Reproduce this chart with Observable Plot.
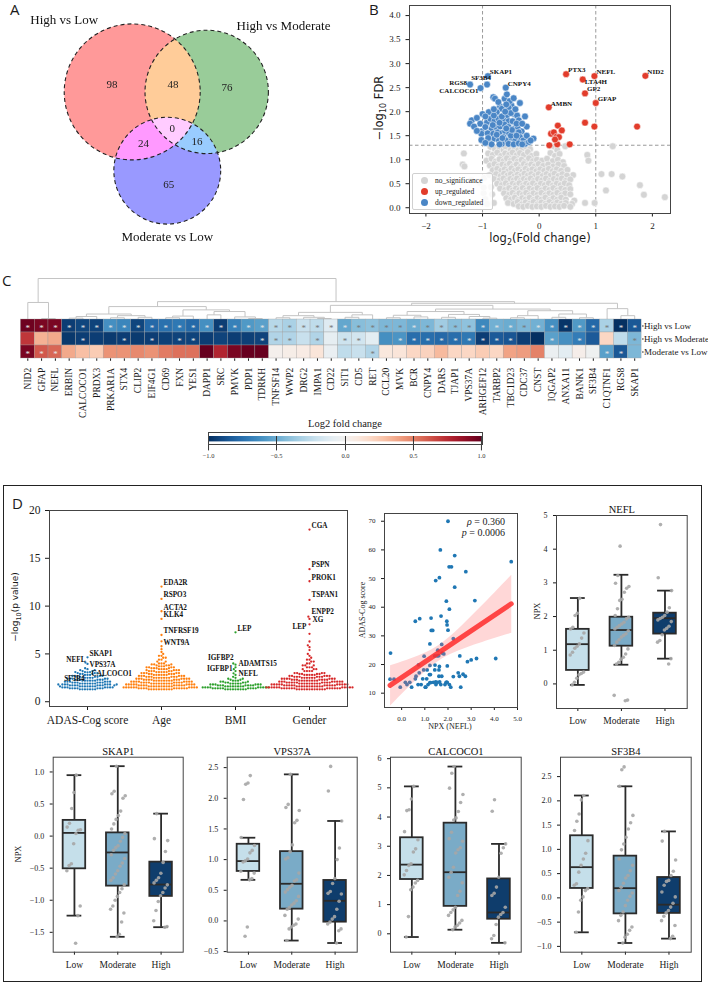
<!DOCTYPE html>
<html>
<head>
<meta charset="utf-8">
<script src="https://cdn.jsdelivr.net/npm/d3@7"></script>
<script src="https://cdn.jsdelivr.net/npm/@observablehq/plot@0.6"></script>
<style>
  html,body{margin:0;padding:0;background:#fff;}
  #fig{position:relative;width:708px;height:985px;overflow:hidden;background:#fff;font-family:'Liberation Serif','Times New Roman',serif;color:#1a1a1a;}
  #fig svg{overflow:visible;font-family:'Liberation Serif','Times New Roman',serif !important;}
  #fig svg text{font-family:'Liberation Serif','Times New Roman',serif;}
  .lbl{position:absolute;white-space:nowrap;line-height:1;}
  .cbar .tick line{display:none;}
</style>
</head>
<body>
<div id="fig"></div>
<script>
// ======================= DATA =======================
// Panel A — Venn
const vennSets = ["High vs Low", "High vs Moderate", "Moderate vs Low"];
const vennRegions = ["100", "010", "001", "110", "101", "011", "111"];
const vennCounts = [98, 76, 65, 48, 24, 16, 0];

// Panel B — volcano
const fcTicks = [-2, -1, 0, 1, 2];
const fdrTicks = [0, 0.5, 1, 1.5, 2, 2.5, 3, 3.5, 4];
const fcCutoffs = [-1, 1];
const fdrCutoff = [1.301];
const volcanoGenes = ["RGS8","CALCOCO1","SF3B4","SKAP1","CNPY4","PTX3","LTA4H","NEFL","GP2","GFAP","AMBN","NID2"];
const volcanoFC  = [-1.22,-1.035,-0.92,-0.906,-0.59,0.476,0.77,0.976,0.81,1.0,0.17,1.876];
const volcanoFDR = [2.565,2.49,2.565,2.74,2.5,2.78,2.67,2.74,2.38,2.18,2.09,2.745];
const upPts = [[0.33,1.71],[0.4,1.61],[0.21,1.54],[0.26,1.57],[0.31,1.48],[0.35,1.47],[0.18,1.3],[0.32,1.32],[0.54,1.32],[0.81,1.77],[0.976,1.69],[1.73,1.69],[0.28,1.42]];
const downPts = [[-0.81,2.3],[-0.78,2.27],[-0.61,2.27],[-0.57,2.36],[-0.34,2.18],[-0.49,2.13],[-0.69,2.11],[-0.54,2.08],[-0.66,2.06],[-0.75,1.99],[-1.0,1.95],[-0.89,1.99],[-0.44,1.95],[-0.57,1.92],[-0.39,1.92],[-0.25,1.9],[-1.19,1.82],[-1.1,1.87],[-1.04,1.75],[-0.92,1.78],[-0.86,1.85],[-0.79,1.8],[-0.72,1.85],[-0.63,1.82],[-0.54,1.8],[-0.47,1.8],[-0.36,1.82],[-0.22,1.69],[-1.22,1.75],[-1.15,1.69],[-1.02,1.59],[-0.95,1.68],[-0.84,1.64],[-0.76,1.68],[-0.69,1.69],[-0.61,1.73],[-0.54,1.68],[-0.45,1.64],[-0.38,1.68],[-0.31,1.59],[-1.02,1.54],[-0.91,1.55],[-0.81,1.54],[-0.73,1.57],[-0.66,1.55],[-0.6,1.59],[-0.53,1.55],[-0.44,1.54],[-0.36,1.57],[-1.02,1.41],[-0.86,1.37],[-0.79,1.44],[-0.71,1.4],[-0.63,1.47],[-0.57,1.4],[-0.49,1.46],[-0.42,1.4],[-0.34,1.47],[-0.28,1.4],[-0.1,1.44],[-0.84,1.32],[-0.66,1.33],[-0.54,1.33],[-0.45,1.32],[-0.36,1.34],[-0.25,1.33],[-0.18,1.37],[-0.5,1.5],[-0.65,1.45],[-0.75,1.52],[-0.9,1.45],[-0.48,1.62],[-0.58,1.65],[-0.7,1.77],[-0.82,1.72],[-0.4,1.75],[-0.3,1.75],[-0.66,1.9],[-0.8,1.92],[-0.5,1.97],[-0.95,1.9],[-0.42,2.05],[-0.6,2.0],[-0.72,2.2],[-0.52,2.22],[-0.4,1.5],[-0.22,1.5],[-0.15,1.4],[-0.95,1.35],[-0.7,1.32],[-0.3,1.32],[-1.1,1.6],[-0.58,2.15],[-0.45,2.28],[-0.8,2.05]];
const grayPts = [[-1.33,1.13],[-1.35,0.9],[-1.32,0.86],[-1.2,0.58],[-1.05,0.52],[-0.97,0.62],[-0.98,0.3],[-0.95,0.18],[-0.92,0.08],[-0.8,0.1],[1.3,1.28],[0.85,1.1],[0.87,0.98],[0.6,0.68],[0.62,0.15],[0.58,0.08],[0.81,0.1],[0.98,0.1],[1.1,0.7],[1.28,0.7],[1.47,0.65],[1.18,0.36],[1.78,0.47],[1.85,0.27],[2.22,0.22],[-0.83,0.28],[-0.85,0.43],[-0.98,0.42],
[-0.86,1.27],[-0.78,1.22],[-0.7,1.25],[-0.63,1.2],[-0.56,1.26],[-0.5,1.21],[-0.44,1.27],[-0.37,1.2],[-0.3,1.24],[-0.24,1.28],[-0.16,1.22],[0.27,1.27],[0.32,1.2],[0.46,1.28],[-0.6,1.28],
[-0.9,1.13],[-0.82,1.1],[-0.74,1.15],[-0.67,1.08],[-0.6,1.13],[-0.53,1.1],[-0.47,1.15],[-0.4,1.09],[-0.34,1.14],[-0.27,1.1],[-0.2,1.16],[-0.13,1.08],[-0.05,1.12],[0.2,1.14],[0.28,1.08],[0.36,1.12],
[-0.93,0.98],[-0.84,1.02],[-0.77,0.96],[-0.7,1.01],[-0.63,0.97],[-0.57,1.03],[-0.5,0.98],[-0.44,1.02],[-0.38,0.96],[-0.31,1.0],[-0.25,0.95],[-0.18,1.03],[-0.11,0.97],[-0.04,1.0],[0.05,0.98],[0.14,1.02],[0.24,0.97],[0.33,1.0],[0.42,0.95],
[-0.87,0.88],[-0.79,0.91],[-0.72,0.86],[-0.65,0.9],[-0.58,0.87],[-0.52,0.92],[-0.46,0.86],[-0.4,0.9],[-0.33,0.85],[-0.27,0.91],[-0.21,0.87],[-0.14,0.9],[-0.08,0.86],[-0.01,0.91],[0.07,0.87],[0.16,0.9],[0.25,0.86],[0.34,0.9],[0.44,0.87],
[-0.82,0.78],[-0.74,0.81],[-0.67,0.77],[-0.61,0.8],[-0.55,0.76],[-0.49,0.82],[-0.43,0.77],[-0.37,0.8],[-0.3,0.75],[-0.24,0.81],[-0.18,0.77],[-0.12,0.8],[-0.05,0.76],[0.02,0.8],[0.09,0.77],[0.17,0.81],[0.24,0.76],[0.31,0.8],[0.39,0.77],[0.5,0.79],
[-0.88,0.68],[-0.76,0.7],[-0.68,0.66],[-0.62,0.71],[-0.56,0.67],[-0.5,0.7],[-0.44,0.65],[-0.38,0.69],[-0.32,0.66],[-0.26,0.71],[-0.2,0.67],[-0.14,0.7],[-0.08,0.66],[-0.01,0.7],[0.06,0.66],[0.13,0.7],[0.2,0.67],[0.27,0.71],[0.34,0.66],[0.41,0.7],[0.49,0.67],
[-0.8,0.6],[-0.7,0.57],[-0.63,0.61],[-0.57,0.56],[-0.51,0.6],[-0.45,0.57],[-0.39,0.61],[-0.33,0.56],[-0.27,0.6],[-0.21,0.57],[-0.15,0.61],[-0.09,0.56],[-0.02,0.6],[0.05,0.57],[0.12,0.61],[0.19,0.56],[0.26,0.6],[0.33,0.57],[0.4,0.61],[0.47,0.56],[0.55,0.59],
[-0.74,0.5],[-0.66,0.47],[-0.59,0.51],[-0.53,0.46],[-0.47,0.5],[-0.41,0.47],[-0.35,0.51],[-0.29,0.46],[-0.23,0.5],[-0.17,0.47],[-0.11,0.51],[-0.04,0.46],[0.03,0.5],[0.1,0.47],[0.17,0.51],[0.24,0.46],[0.31,0.5],[0.38,0.47],[0.45,0.51],[0.53,0.47],
[-0.69,0.4],[-0.6,0.37],[-0.53,0.41],[-0.47,0.36],[-0.41,0.4],[-0.35,0.37],[-0.29,0.41],[-0.23,0.36],[-0.17,0.4],[-0.1,0.37],[-0.03,0.41],[0.04,0.36],[0.11,0.4],[0.18,0.37],[0.25,0.41],[0.32,0.36],[0.39,0.4],[0.46,0.37],[0.55,0.39],
[-0.62,0.3],[-0.53,0.27],[-0.47,0.31],[-0.41,0.26],[-0.35,0.3],[-0.29,0.27],[-0.23,0.31],[-0.17,0.26],[-0.1,0.3],[-0.03,0.27],[0.04,0.31],[0.11,0.26],[0.18,0.3],[0.25,0.27],[0.32,0.31],[0.39,0.26],[0.46,0.3],[0.55,0.28],
[-0.58,0.2],[-0.5,0.17],[-0.43,0.21],[-0.37,0.16],[-0.3,0.2],[-0.24,0.17],[-0.17,0.21],[-0.1,0.16],[-0.03,0.2],[0.04,0.17],[0.11,0.21],[0.18,0.16],[0.25,0.2],[0.32,0.17],[0.39,0.21],[0.47,0.17],
[-0.55,0.1],[-0.45,0.08],[-0.38,0.12],[-0.31,0.07],[-0.24,0.11],[-0.17,0.08],[-0.1,0.12],[-0.03,0.07],[0.04,0.11],[0.11,0.08],[0.18,0.12],[0.25,0.07],[0.32,0.11],[0.39,0.08],[0.47,0.1],
[-0.36,0.03],[-0.28,0.02],[-0.2,0.04],[-0.12,0.02],[-0.04,0.03],[0.04,0.02],[0.12,0.04],[0.2,0.02],[0.28,0.03],[0.36,0.02],[0.44,0.04],[0.55,0.02]];

// Panel C — heatmap
const genes = ["NID2","GFAP","NEFL","ERBIN","CALCOCO1","PRDX3","PRKAR1A","STX4","CLIP2","EIF4G1","CD69","FXN","YES1","DAPP1","SRC","PMVK","PDP1","TDRKH","TNFSF14","WWP2","DRG2","IMPA1","CD22","SIT1","CD5","RET","CCL20","MVK","BCR","CNPY4","DARS","TJAP1","VPS37A","ARHGEF12","TARBP2","TBC1D23","CDC37","CNST","IQGAP2","ANXA11","BANK1","SF3B4","C1QTNF1","RGS8","SKAP1"];
const comparisons = ["High vs Low", "High vs Moderate", "Moderate vs Low"];
const hvlFC = [0.98,0.95,0.95,-0.95,-0.92,-0.93,-0.62,-0.66,-0.92,-0.78,-0.75,-0.72,-0.78,-0.62,-0.95,-0.68,-0.58,-0.55,-0.28,-0.32,-0.22,-0.25,-0.12,-0.52,-0.42,-0.4,-0.45,-0.45,-0.5,-0.45,-0.35,-0.42,-0.4,-0.65,-0.48,-0.5,-0.45,-0.48,-0.62,-0.98,-0.58,-0.78,-0.32,-1.0,-0.85];
const hvmFC = [0.72,0.35,0.38,-0.97,-0.95,-0.95,-0.96,-0.95,-0.96,-0.95,-0.94,-0.93,-0.93,-0.95,-0.93,-0.95,-0.94,-0.93,-0.3,-0.3,-0.22,-0.3,-0.08,-0.2,-0.18,-0.1,-0.62,-0.6,-0.76,-0.76,-0.78,-0.76,-0.72,-0.95,-0.84,-0.86,-0.95,-1.0,-0.55,-0.62,-0.7,-0.84,0.2,-0.25,-0.45];
const mvlFC = [0.95,0.62,0.58,0.38,0.3,0.25,0.45,0.45,0.48,0.45,0.52,0.55,0.55,1.0,0.78,0.95,1.0,1.0,0.02,0.05,0.07,0.12,-0.06,-0.25,-0.22,-0.3,0.1,0.12,0.2,0.22,0.32,0.2,0.2,0.25,0.2,0.4,0.42,0.5,-0.05,-0.1,0.04,-0.03,-0.55,-0.85,-0.45];
const hvlSig = genes.slice();
const hvmSig = ["CALCOCO1","STX4","EIF4G1","FXN","YES1","TDRKH","TNFSF14","WWP2","IMPA1","SIT1","CD5","MVK","BCR","CNPY4","DARS","TJAP1","VPS37A","ARHGEF12","TARBP2","TBC1D23","IQGAP2","BANK1","SKAP1"];
const mvlSig = ["NID2","GFAP","NEFL","RET","C1QTNF1","RGS8"];
// column dendrogram: [height, left, right]
const colTree = [1.0,
  [0.42, "NID2", [0.03, "GFAP", "NEFL"]],
  [0.44,
    [0.32,
      [0.14, [0.08, [0.04, "ERBIN", "CALCOCO1"], "PRDX3"], [0.1, [0.05, "PRKAR1A", "STX4"], [0.06, "CLIP2", "EIF4G1"]]],
      [0.24, [0.09, [0.05, "CD69", "FXN"], "YES1"], [0.2, [0.12, "DAPP1", "SRC"], [0.07, "PMVK", [0.03, "PDP1", "TDRKH"]]]]],
    [0.40,
      [0.35,
        [0.18, [0.1, [0.05, "TNFSF14", "WWP2"], [0.06, "DRG2", [0.03, "IMPA1", "CD22"]]], [0.12, [0.06, "SIT1", "CD5"], "RET"]],
        [0.26,
          [0.2, [0.11, [0.05, "CCL20", "MVK"], [0.07, "BCR", "CNPY4"]], [0.13, [0.06, "DARS", "TJAP1"], [0.08, "VPS37A", [0.04, "ARHGEF12", "TARBP2"]]]],
          [0.22, [0.1, [0.05, "TBC1D23", "CDC37"], "CNST"], [0.14, [0.06, "IQGAP2", "ANXA11"], [0.05, "BANK1", "SF3B4"]]]]],
      [0.27, "C1QTNF1", [0.1, "RGS8", "SKAP1"]]]]];
const cbarTicks = [-1, -0.5, 0, 0.5, 1];

// Panel D — association swarm
const swarmCats = ["ADAS-Cog score", "Age", "BMI", "Gender"];
const adasBins = [[1.3,7],[1.4,7],[1.5,7],[1.6,8],[1.7,8],[1.8,8],[1.9,7],[2.0,6],[2.1,6],[2.2,6],[2.3,6],[2.4,5],[2.5,4],[2.6,4],[2.7,4],[2.8,3],[2.9,3],[3.0,3],[3.1,3],[3.2,2],[3.3,2],[3.4,1],[3.5,1]];
const ageBins = [[1.3,10],[1.4,10],[1.5,10],[1.6,10],[1.7,9],[1.8,9],[1.9,9],[2.0,8],[2.1,8],[2.2,8],[2.3,7],[2.4,7],[2.5,7],[2.6,6],[2.7,6],[2.8,6],[2.9,5],[3.0,5],[3.1,5],[3.2,5],[3.3,4],[3.4,4],[3.5,4],[3.6,4],[3.7,3],[3.8,3],[3.9,3],[4.0,3],[4.2,2],[4.4,2],[4.6,2],[4.8,2],[5.0,1],[5.2,1],[5.5,1],[5.8,1]];
const bmiBins = [[1.3,9],[1.4,9],[1.5,9],[1.6,8],[1.7,7],[1.8,6],[1.9,5],[2.0,4],[2.1,3],[2.2,3],[2.3,2],[2.4,2],[2.5,1],[2.6,1],[2.8,1],[3.2,1],[3.4,1]];
const genderBins = [[1.3,12],[1.4,12],[1.5,11],[1.6,11],[1.7,10],[1.8,10],[1.9,9],[2.0,9],[2.1,8],[2.2,8],[2.3,7],[2.4,7],[2.5,6],[2.6,6],[2.7,5],[2.8,5],[2.9,4],[3.0,4],[3.2,4],[3.4,3],[3.6,3],[3.8,3],[4.0,2],[4.2,2],[4.4,2],[4.6,1],[4.8,1],[5.0,1],[5.4,1],[5.7,1],[5.9,1],[6.3,1],[7.1,1]];
const adasTopGenes = ["SKAP1","NEFL","VPS37A","CALCOCO1","SF3B4"];
const adasTopP = [4.64, 4.1, 3.95, 3.07, 2.55];
const ageTopGenes = ["EDA2R","RSPO3","ACTA2","KLK4","TNFRSF19","WNT9A"];
const ageTopP = [12.04, 10.75, 9.46, 8.66, 6.98, 6.32];
const bmiTopGenes = ["LEP","IGFBP2","ADAMTS15","IGFBP1","NEFL"];
const bmiTopP = [7.26, 4.0, 3.87, 3.6, 2.97];
const genderTopGenes = ["CGA","PSPN","PROK1","TSPAN1","ENPP2","XG","LEP"];
const genderTopP = [18.0, 13.86, 12.6, 10.65, 8.9, 8.66, 8.1];
const swarmTicks = [0, 5, 10, 15, 20];

// Panel D — NEFL vs ADAS-Cog
const scatterNPX = [2.0,1.67,2.29,2.05,2.15,4.73,2.77,1.63,1.47,2.29,3.16,1.93,2.06,1.7,0.78,1.27,0.59,1.95,1.96,2.0,1.28,1.34,2.23,1.22,1.73,-0.48,1.82,0.97,2.51,1.43,1.54,1.6,4.06,3.23,3.0,2.84,0.73,1.97,1.22,1.44,1.63,0.95,1.1,1.43,1.61,0.62,0.76,1.2,1.24,2.44,2.65,2.23,2.49,2.75,-0.5,-0.33,0.59,0.91,1.08,1.61,1.73,1.92,1.96,2.06,0.16,0.35,1.37,1.47,1.64,0.23,0.43,0.71,0.84,1.04,1.14,-0.06,1.22,1.25,1.48,1.54,1.69,1.87,1.95,2.12,2.55,1.02,1.56,1.75];
const scatterADAS = [70.0,60.0,58.0,54.1,54.1,55.9,52.4,50.3,49.3,47.0,42.3,42.1,39.3,36.9,36.0,36.2,35.1,35.1,33.8,32.0,31.9,31.9,29.0,27.2,27.0,24.0,23.7,22.9,23.0,23.0,23.0,23.1,22.1,22.1,21.6,21.0,19.9,19.5,19.7,19.8,19.3,18.1,18.1,18.1,18.1,15.9,17.1,16.5,16.5,17.1,16.6,15.8,15.9,15.9,14.9,14.9,15.0,15.0,15.0,15.9,15.9,13.8,13.8,13.0,13.8,13.8,13.8,13.9,13.9,13.0,12.1,13.0,13.0,12.1,13.0,12.1,13.7,13.7,13.0,13.8,13.0,13.0,13.8,12.1,12.1,12.1,25.0,24.0];
const rhoText = "0.360";
const pText = "0.0006";

// Panel D — box plots (groups Low / Moderate / High)
const boxGroups = ["Low", "Moderate", "High"];
const neflStats = {lo:[-0.03,0.57,0.75], q1:[0.4,1.12,1.48], med:[1.18,1.6,1.95], q3:[1.62,1.98,2.1], hi:[2.55,3.24,2.77]};
const neflPts = [
  [2.54,2.1,2.03,1.68,1.63,1.51,1.36,1.19,1.12,1.06,0.94,0.86,0.35,0.31,0.27,0.17,0.05,-0.03],
  [4.09,3.22,2.99,2.89,2.84,2.72,2.51,2.48,2.23,2.03,1.98,1.93,1.83,1.78,1.73,1.68,1.63,1.58,1.49,1.44,1.39,1.31,1.24,1.14,1.04,0.89,0.79,0.73,0.64,0.59,-0.34,-0.48,-0.5],
  [4.73,3.15,2.77,2.26,2.13,2.03,1.98,1.94,1.9,1.85,1.71,1.65,1.6,1.46,1.29,1.24,0.75,0.59]];
const skap1Stats = {lo:[-1.24,-1.57,-1.42], q1:[-0.51,-0.78,-0.94], med:[0.05,-0.255,-0.755], q3:[0.245,0.05,-0.406], hi:[0.95,1.09,0.35]};
const skap1Pts = [
  [0.95,0.68,0.43,0.2,0.14,0.1,0.09,0.04,-0.12,-0.43,-0.46,-0.54,-1.09,-1.24,-1.67],
  [1.09,0.7,0.66,0.63,0.59,0.39,0.32,0.26,0.19,0.11,0.04,-0.02,-0.08,-0.15,-0.18,-0.22,-0.29,-0.35,-0.42,-0.47,-0.54,-0.59,-0.65,-0.69,-0.76,-0.82,-0.88,-0.94,-1.0,-1.09,-1.14,-1.2,-1.34,-1.53,-1.57],
  [0.35,-0.04,-0.07,-0.24,-0.41,-0.58,-0.65,-0.69,-0.73,-0.76,-0.81,-0.88,-0.93,-1.02,-1.16,-1.32,-1.41,-1.42]];
const vps37aStats = {lo:[0.67,-0.32,-0.36], q1:[0.807,0.192,-0.02], med:[0.976,0.606,0.328], q3:[1.25,1.13,0.66], hi:[1.357,2.39,1.63]};
const vps37aPts = [
  [2.37,2.25,2.23,1.98,1.36,1.23,1.15,1.11,1.01,0.98,0.96,0.81,0.78,0.69,0.67,-0.1,-0.25],
  [2.39,1.9,1.85,1.8,1.64,1.6,1.24,1.13,1.03,1.01,0.78,0.67,0.65,0.58,0.55,0.51,0.47,0.4,0.33,0.29,0.26,0.22,0.19,0.09,0.03,-0.05,-0.07,-0.1,-0.13,-0.32],
  [2.52,2.12,1.63,1.19,1.0,0.69,0.61,0.48,0.45,0.44,0.32,0.19,0.07,0.03,-0.02,-0.05,-0.13,-0.16,-0.36]];
const calcoco1Stats = {lo:[-0.11,0.14,-0.31], q1:[1.86,0.94,0.5], med:[2.37,2.11,0.73], q3:[3.29,3.79,1.88], hi:[5.05,5.73,3.08]};
const calcoco1Pts = [
  [5.05,4.62,4.25,4.22,3.5,3.22,2.91,2.8,2.4,2.34,2.17,2.02,1.83,1.74,1.6,1.51,0.59,-0.11],
  [5.73,5.5,4.99,4.77,4.5,4.19,3.97,3.9,3.48,3.26,3.17,2.95,2.88,2.77,2.28,2.11,1.94,1.75,1.46,1.31,0.91,0.82,0.73,0.63,0.46,0.37,0.29,0.23,0.14],
  [4.59,4.2,3.08,2.95,2.76,1.94,1.6,1.39,1.31,0.91,0.73,0.66,0.57,0.32,-0.06,-0.17,-0.31]];
const sf3b4Stats = {lo:[-0.71,-0.93,-0.84], q1:[0.194,-0.33,-0.32], med:[0.633,0.2,-0.14], q3:[1.28,0.86,0.42], hi:[2.11,2.3,1.37]};
const sf3b4Pts = [
  [2.11,2.02,1.73,1.58,1.39,1.18,0.92,0.8,0.67,0.53,0.29,0.26,0.19,0.15,0.02,-0.05,-0.29,-0.71],
  [2.7,2.64,2.3,1.7,1.55,1.42,1.25,1.11,0.99,0.8,0.67,0.56,0.46,0.41,0.3,0.22,0.15,0.1,0.03,-0.05,-0.16,-0.29,-0.36,-0.47,-0.6,-0.67,-0.75,-0.81,-0.93],
  [1.37,1.17,0.78,0.55,0.46,0.36,0.34,0.26,0.12,0.02,-0.11,-0.19,-0.26,-0.31,-0.38,-0.47,-0.57,-0.79,-0.84]];

// ======================= RENDERING =======================
const fig = document.getElementById("fig");
const SERIF = "'Liberation Serif','Times New Roman',serif";
const SANS = "'DejaVu Sans',sans-serif";
const st = (fs, extra = {}) => Object.assign({fontFamily: SERIF, fontSize: fs + "px", background: "none", overflow: "visible", color: "#1a1a1a"}, extra);
function put(node, x, y) {
  node.style.position = "absolute"; node.style.left = x + "px"; node.style.top = y + "px";
  node.querySelectorAll("text").forEach(t => { t.style.fontFamily = SERIF; });
  fig.appendChild(node); return node;
}
function txt(html, x, y, o = {}) {
  const d = document.createElement("div");
  d.className = "lbl";
  d.innerHTML = html;
  const size = o.size || 10, fam = o.family || SERIF, rot = o.rotate || 0;
  const tx = o.anchor === "start" ? "0" : o.anchor === "end" ? "-100%" : "-50%";
  d.style.left = x + "px"; d.style.top = y + "px";
  d.style.fontSize = size + "px"; d.style.fontFamily = fam;
  if (o.weight) d.style.fontWeight = o.weight;
  if (o.style) d.style.cssText += o.style;
  d.style.transform = `translate(${tx},-50%)` + (rot ? ` rotate(${rot}deg)` : "");
  fig.appendChild(d);
  return d;
}
const LETTER = "'Open Sans','Liberation Sans',sans-serif";
txt("A", 10, 9, {size: 15, family: LETTER, anchor: "start"});
txt("B", 369, 9, {size: 15, family: LETTER, anchor: "start"});
txt("C", 2, 280, {size: 15, family: LETTER, anchor: "start"});

// ---------- A: Venn ----------
(function () {
  const AREA = 85.4; // px² per item
  const size = vennSets.map((_, i) => d3.sum(vennRegions.map((k, j) => k[i] === "1" ? vennCounts[j] : 0)));
  const both = (i, j) => d3.sum(vennRegions.map((k, m) => (k[i] === "1" && k[j] === "1") ? vennCounts[m] : 0));
  const R = size.map(s => Math.sqrt(s * AREA / Math.PI));
  function lens(r1, r2, d) {
    if (d >= r1 + r2) return 0;
    if (d <= Math.abs(r1 - r2)) return Math.PI * Math.min(r1, r2) ** 2;
    const a = r1 * r1 * Math.acos((d * d + r1 * r1 - r2 * r2) / (2 * d * r1));
    const b = r2 * r2 * Math.acos((d * d + r2 * r2 - r1 * r1) / (2 * d * r2));
    const c = 0.5 * Math.sqrt((-d + r1 + r2) * (d + r1 - r2) * (d - r1 + r2) * (d + r1 + r2));
    return a + b - c;
  }
  function distFor(r1, r2, area) {
    let lo = Math.abs(r1 - r2), hi = r1 + r2;
    for (let k = 0; k < 60; k++) { const m = (lo + hi) / 2; if (lens(r1, r2, m) > area) lo = m; else hi = m; }
    return (lo + hi) / 2;
  }
  const d01 = distFor(R[0], R[1], both(0, 1) * AREA);
  const d02 = distFor(R[0], R[2], both(0, 2) * AREA);
  const d12 = distFor(R[1], R[2], both(1, 2) * AREA);
  const cx2 = (d02 * d02 - d12 * d12 + d01 * d01) / (2 * d01);
  const cy2 = Math.sqrt(Math.max(0, d02 * d02 - cx2 * cx2));
  let C = [[0, 0], [d01, 0], [cx2, cy2]];
  const bx0 = d3.min(C, (c, i) => c[0] - R[i]), bx1 = d3.max(C, (c, i) => c[0] + R[i]);
  const by0 = d3.min(C, (c, i) => c[1] - R[i]), by1 = d3.max(C, (c, i) => c[1] + R[i]);
  const ox = 165.8 - (bx0 + bx1) / 2, oy = 123.5 - (by0 + by1) / 2;
  const colors = ["#ff9999", "#99cc99", "#9999ff"];
  const circles = C.map((c, i) => ({x: c[0] + ox, y: c[1] + oy, r: R[i], color: colors[i], name: vennSets[i]}));
  const acc = new Map();
  for (let x = Math.floor(bx0 + ox); x <= bx1 + ox; x++) for (let y = Math.floor(by0 + oy); y <= by1 + oy; y++) {
    const key = circles.map(c => ((x - c.x) ** 2 + (y - c.y) ** 2 <= c.r * c.r) ? "1" : "0").join("");
    if (key === "000") continue;
    const a = acc.get(key) || [0, 0, 0]; a[0] += x; a[1] += y; a[2]++; acc.set(key, a);
  }
  const regionLabels = vennRegions.map((k, j) => { const a = acc.get(k) || [0, 0, 1]; return {x: a[0] / a[2], y: a[1] / a[2], text: String(vennCounts[j])}; });
  const setOffsets = [[-1.0, -1.06], [1.245, -1.075], [0, 1.235]];
  const setLabels = circles.map((c, i) => ({x: c.x + setOffsets[i][0] * c.r, y: c.y + setOffsets[i][1] * c.r, text: c.name}));
  const svg = Plot.plot({
    width: 350, height: 260, margin: 0,
    x: {domain: [0, 350], range: [0, 350], axis: null},
    y: {domain: [0, 260], range: [0, 260], axis: null},
    style: st(11, {isolation: "isolate"}),
    marks: [
      ...circles.map(c => Plot.dot([c], {x: "x", y: "y", r: c.r, fill: c.color, stroke: "none", mixBlendMode: "lighten"})),
      ...circles.map(c => Plot.dot([c], {x: "x", y: "y", r: c.r, fill: "none", stroke: "#222", strokeWidth: 1.1, strokeDasharray: "4,3"})),
      Plot.text(regionLabels, {x: "x", y: "y", text: "text", fontSize: 11, fill: "#222"}),
      Plot.text(setLabels, {x: "x", y: "y", text: "text", fontSize: 13, fill: "#111"})
    ]
  });
  put(svg, 0, 0);
})();

// ---------- B: volcano ----------
(function () {
  const lab = volcanoGenes.map((g, i) => ({g, x: volcanoFC[i], y: volcanoFDR[i], up: volcanoFC[i] > 0}));
  const layout = {RGS8: [-3, -2, "end"], CALCOCO1: [-2, 3, "end"], SF3B4: [-6, -7, "middle"], LTA4H: [2, 2.5, "start"], GP2: [2, -4.5, "start"]};
  const RED = "#e23c2b", BLUE = "#4a86c6", GRAY = "#d4d4d4";
  const svg = Plot.plot({
    width: 353, height: 260, marginLeft: 54, marginRight: 38, marginTop: 5, marginBottom: 47,
    style: st(9),
    x: {domain: [-2.29, 2.32], ticks: fcTicks, tickFormat: d3.format("d"), tickSize: 3.5, label: null},
    y: {domain: [-0.12, 4.21], ticks: fdrTicks, tickFormat: d3.format(".1f"), tickSize: 3.5, label: null},
    marks: [
      Plot.ruleX(fcCutoffs, {stroke: "#9a9a9a", strokeDasharray: "3.5,2.5", strokeWidth: 1}),
      Plot.ruleY(fdrCutoff, {stroke: "#9a9a9a", strokeDasharray: "3.5,2.5", strokeWidth: 1}),
      Plot.dot(grayPts, {x: d => d[0], y: d => d[1], r: 3.4, fill: GRAY, stroke: "#fff", strokeWidth: 0.5}),
      Plot.dot(upPts, {x: d => d[0], y: d => d[1], r: 3.4, fill: RED, stroke: "#fff", strokeWidth: 0.5}),
      Plot.dot(downPts, {x: d => d[0], y: d => d[1], r: 3.4, fill: BLUE, stroke: "#fff", strokeWidth: 0.5}),
      Plot.dot(lab, {x: "x", y: "y", r: 3.4, fill: d => d.up ? RED : BLUE, stroke: "#fff", strokeWidth: 0.5}),
      ...lab.map(d => { const o = layout[d.g] || [2, -4, "start"]; return Plot.text([d], {x: "x", y: "y", text: "g", dx: o[0], dy: o[1], textAnchor: o[2], fontSize: 7, fontWeight: "bold", fill: "#111"}); }),
      Plot.frame({stroke: "#444"})
    ]
  });
  put(svg, 355, 0);
  txt("log<sub style='font-size:8px'>2</sub>(Fold change)", 540, 240, {size: 11.5, family: SANS});
  txt("−log<sub style='font-size:8px'>10</sub> FDR", 381, 108, {size: 11.5, family: SANS, rotate: -90});
  // legend
  const lg = document.createElement("div");
  lg.style.cssText = "position:absolute;left:412px;top:173px;width:79px;height:35px;border:1px solid #d0d0d0;border-radius:2px;background:rgba(255,255,255,0.85);font-family:" + SERIF + ";font-size:7.5px;color:#222;";
  [["no_significance", GRAY], ["up_regulated", RED], ["down_regulated", BLUE]].forEach(([t, c], i) => {
    const row = document.createElement("div");
    row.style.cssText = `position:absolute;left:0;top:${2 + i * 10.8}px;height:10px;line-height:10px;white-space:nowrap;`;
    row.innerHTML = `<span style="display:inline-block;width:7px;height:7px;border-radius:50%;background:${c};margin:0 7px 0 8px;vertical-align:-1px"></span>${t}`;
    lg.appendChild(row);
  });
  fig.appendChild(lg);
})();

// ---------- C: dendrogram + heatmap + colorbar ----------
(function () {
  const idx = new Map(genes.map((g, i) => [g, i]));
  const segs = [];
  function walk(n) {
    if (typeof n === "string") return {x: idx.get(n) + 0.5, h: 0};
    const [h, a, b] = n; const L = walk(a), Rr = walk(b);
    segs.push({x1: L.x, y1: L.h, x2: L.x, y2: h}, {x1: Rr.x, y1: Rr.h, x2: Rr.x, y2: h}, {x1: L.x, y1: h, x2: Rr.x, y2: h});
    return {x: (L.x + Rr.x) / 2, h};
  }
  walk(colTree);
  const dendro = Plot.plot({
    width: 708, height: 48, marginLeft: 20.4, marginRight: 66.9, marginTop: 6, marginBottom: 0.7,
    x: {domain: [0, genes.length], axis: null}, y: {domain: [0, 1], axis: null},
    style: st(9),
    marks: [Plot.link(segs, {x1: "x1", y1: "y1", x2: "x2", y2: "y2", stroke: "#c4c4c4", strokeWidth: 1})]
  });
  put(dendro, 0, 272);

  const vals = [hvlFC, hvmFC, mvlFC], sigs = [hvlSig, hvmSig, mvlSig];
  const cells = comparisons.flatMap((c, r) => genes.map((g, i) => ({gene: g, comp: c, value: vals[r][i], sig: sigs[r].includes(g)})));
  const heat = Plot.plot({
    width: 708, height: 100, marginLeft: 20.4, marginRight: 66.9, marginTop: 0.3, marginBottom: 60.7,
    style: st(9.5),
    x: {domain: genes, padding: 0, tickRotate: -90, tickSize: 2.5, label: null},
    y: {domain: comparisons, padding: 0, axis: "right", tickSize: 1.5, tickPadding: 1, label: null},
    color: {type: "linear", scheme: "rdbu", reverse: true, domain: [-1, 1]},
    marks: [
      Plot.cell(cells, {x: "gene", y: "comp", fill: "value", stroke: "#9c9c9c", strokeWidth: 0.35}),
      Plot.text(cells.filter(d => d.sig), {x: "gene", y: "comp", text: () => "*", fill: d => Math.abs(d.value) > 0.45 ? "#e6e6e6" : "#777", fontSize: 9, dy: 2.5})
    ]
  });
  heat.querySelectorAll("g[aria-label='y-axis tick label'] text").forEach(t => t.style.fontSize = "9px");
  put(heat, 0, 319);

  const cb = Plot.legend({
    color: {type: "linear", scheme: "rdbu", reverse: true, domain: [-1, 1]},
    label: null, width: 293.2, marginLeft: 10, marginRight: 10, height: 29.4, marginTop: 4, marginBottom: 20,
    ticks: cbarTicks, tickFormat: d3.format(".1f"), tickSize: 9, className: "cbar",
    style: {fontFamily: SERIF, fontSize: "6.5px", background: "none", overflow: "visible", color: "#333"}
  });
  put(cb, 198.4, 431.9);
  const fr = document.createElement("div");
  fr.style.cssText = "position:absolute;left:208px;top:431.5px;width:273px;height:11px;border:1px solid #444;box-sizing:content-box;";
  fig.appendChild(fr);
  txt("Log2 fold change", 345, 424, {size: 10.5});
})();

// ---------- D ----------
(function () {
  const box = document.createElement("div");
  box.style.cssText = "position:absolute;left:3px;top:485px;width:697px;height:495px;border:1.5px solid #222;";
  fig.appendChild(box);
  txt("D", 12, 503, {size: 15, family: LETTER, anchor: "start"});

  // swarm
  const bins = [adasBins, ageBins, bmiBins, genderBins];
  const tops = [[adasTopGenes, adasTopP], [ageTopGenes, ageTopP], [bmiTopGenes, bmiTopP], [genderTopGenes, genderTopP]];
  const swarmColors = ["#1f77b4", "#ff7f0e", "#2ca02c", "#d62728"];
  const swarmData = swarmCats.flatMap((c, i) => [
    ...bins[i].flatMap(([v, n]) => Array.from({length: n}, () => ({cat: c, v}))),
    ...tops[i][1].map(v => ({cat: c, v}))
  ]).sort((a, b) => a.v - b.v);
  const dots = Plot.plot({
    width: 355, height: 240, marginLeft: 49, marginRight: 8, marginTop: 15, marginBottom: 29,
    style: st(10),
    facet: {data: swarmData, x: "cat"},
    fx: {domain: swarmCats, padding: 0, axis: null, label: null},
    y: {domain: [-0.5, 20], axis: null},
    color: {domain: swarmCats, range: swarmColors},
    marks: [Plot.dot(swarmData, Plot.dodgeX({anchor: "middle", padding: 0.25}, {y: "v", r: 1.15, fill: "cat"}))]
  });
  put(dots, 0, 495);
  const pos = {
    "ADAS-Cog score": {SKAP1: [2, -4, "start"], NEFL: [-2, -3, "end"], VPS37A: [2, 1, "start"], CALCOCO1: [4, 1, "start"], SF3B4: [-3, 1, "end"]},
    "Age": {WNT9A: [2, 1, "start"]},
    "BMI": {IGFBP2: [-2, -6, "end"], ADAMTS15: [3, -1, "start"], IGFBP1: [-3, 1, "end"], NEFL: [3, 0, "start"]},
    "Gender": {PSPN: [2, -5, "start"], TSPAN1: [2, -5, "start"], ENPP2: [2, -5, "start"], XG: [3, 1, "start"], LEP: [-3, 2, "end"]}
  };
  const labels = swarmCats.flatMap((c, i) => tops[i][0].map((g, k) => ({cat: c, g, v: tops[i][1][k]})));
  const axes = Plot.plot({
    width: 355, height: 240, marginLeft: 49, marginRight: 8, marginTop: 15, marginBottom: 29,
    style: st(11.5),
    x: {type: "point", domain: swarmCats, padding: 0.51, tickSize: 4, label: null},
    y: {domain: [-0.5, 20], ticks: swarmTicks, tickSize: 4, label: null},
    marks: [
      Plot.frame({stroke: "#444"}),
      ...labels.map(d => { const o = (pos[d.cat] && pos[d.cat][d.g]) || [2, -4, "start"]; return Plot.text([d], {x: "cat", y: "v", text: "g", dx: o[0], dy: o[1], textAnchor: o[2], fontSize: 7.2, fontWeight: "bold", fill: "#111"}); })
    ]
  });
  put(axes, 0, 495);
  txt("−log<sub style='font-size:6.5px'>10</sub>(p value)", 17, 607, {size: 9, family: SANS, rotate: -90});

  // scatter
  const pts = scatterNPX.map((x, i) => ({x, y: scatterADAS[i]}));
  const sc = Plot.plot({
    width: 190, height: 235, marginLeft: 44, marginRight: 13, marginTop: 13, marginBottom: 28,
    style: st(7),
    x: {domain: [-0.74, 5.0], ticks: [0, 1, 2, 3, 4, 5], tickSize: 3, label: null},
    y: {domain: [5, 72.7], ticks: [10, 20, 30, 40, 50, 60, 70], tickSize: 3, label: null},
    marks: [
      Plot.frame({stroke: "#444"}),
      Plot.dot(pts, {x: "x", y: "y", r: 1.9, fill: "#1f77b4"}),
      Plot.linearRegressionY(pts, {x: "x", y: "y", stroke: "#ff2b2b", strokeWidth: 5, strokeOpacity: 0.85, fill: "#ff7070", fillOpacity: 0.28})
    ]
  });
  put(sc, 340, 500);
  txt("ADAS-Cog score", 363, 610, {size: 8, rotate: -90});
  txt("NPX (NEFL)", 450, 727, {size: 8});
  txt("<i>ρ</i> = " + rhoText, 505, 521.5, {size: 10, anchor: "end"});
  txt("<i>p</i> = " + pText, 505, 532.5, {size: 10, anchor: "end"});

  // box plots
  const boxColors = ["#c5dfea", "#7aabc7", "#0f3d6c"];
  const EDGE = "#2b2b2b";
  const jitter = k => (((k * 0.6180339887) % 1) - 0.5) * 0.36;
  function boxPanel(o) {
    const rows = boxGroups.map((g, i) => ({i, g, lo: o.stats.lo[i], q1: o.stats.q1[i], med: o.stats.med[i], q3: o.stats.q3[i], hi: o.stats.hi[i]}));
    const dp = o.points.flatMap((vs, i) => vs.map((v, k) => ({x: i + jitter(k * 3 + i * 11 + 1), v})));
    const W = 0.26, CAP = 0.17;
    const svg = Plot.plot({
      width: o.w, height: o.h, marginLeft: o.ml, marginRight: o.mr, marginTop: o.mt, marginBottom: o.mb,
      style: st(8),
      x: {domain: [-0.49, 2.51], ticks: [0, 1, 2], tickFormat: i => boxGroups[i], tickSize: 3, label: null},
      y: {domain: o.domain, ticks: o.ticks, tickFormat: o.fmt, tickSize: 3, label: null},
      marks: [
        Plot.ruleX(rows, {x: "i", y1: "lo", y2: "hi", stroke: EDGE, strokeWidth: 1.8}),
        Plot.ruleY(rows, {y: "lo", x1: d => d.i - CAP, x2: d => d.i + CAP, stroke: EDGE, strokeWidth: 1.8}),
        Plot.ruleY(rows, {y: "hi", x1: d => d.i - CAP, x2: d => d.i + CAP, stroke: EDGE, strokeWidth: 1.8}),
        Plot.rect(rows, {x1: d => d.i - W, x2: d => d.i + W, y1: "q1", y2: "q3", fill: d => boxColors[d.i], stroke: EDGE, strokeWidth: 1.8}),
        Plot.ruleY(rows, {y: "med", x1: d => d.i - W, x2: d => d.i + W, stroke: EDGE, strokeWidth: 1.8}),
        Plot.dot(dp, {x: "x", y: "v", r: 1.8, fill: "#a6a6a6", fillOpacity: 0.9}),
        Plot.frame({stroke: "#444"}),
        Plot.text([o.name], {frameAnchor: "top", dy: -10, fontSize: 10.5, fill: "#111"})
      ]
    });
    svg.querySelectorAll("g[aria-label='x-axis tick label'] text, g[aria-label='x-axis'] text").forEach(t => t.style.fontSize = "9.5px");
    put(svg, o.left, o.top);
  }
  const f1 = d3.format(".1f"), f0 = d3.format("d");
  boxPanel({name: "NEFL", stats: neflStats, points: neflPts, left: 530, top: 495, w: 178, h: 240, ml: 26, mr: 21.3, mt: 20, mb: 27, domain: [-0.73, 5.0], ticks: [0, 1, 2, 3, 4, 5], fmt: f0});
  boxPanel({name: "SKAP1", stats: skap1Stats, points: skap1Pts, left: 0, top: 740, w: 190, h: 240, ml: 52.7, mr: 7.3, mt: 16.7, mb: 28.3, domain: [-1.81, 1.23], ticks: [-1.5, -1, -0.5, 0, 0.5, 1], fmt: f1});
  boxPanel({name: "VPS37A", stats: vps37aStats, points: vps37aPts, left: 190, top: 740, w: 175, h: 240, ml: 36.7, mr: 8.3, mt: 16.7, mb: 28.3, domain: [-0.51, 2.67], ticks: [-0.5, 0, 0.5, 1, 1.5, 2, 2.5], fmt: f1});
  boxPanel({name: "CALCOCO1", stats: calcoco1Stats, points: calcoco1Pts, left: 360, top: 740, w: 170, h: 240, ml: 30, mr: 9.3, mt: 16.7, mb: 28.3, domain: [-0.63, 6.05], ticks: [0, 1, 2, 3, 4, 5, 6], fmt: f0});
  boxPanel({name: "SF3B4", stats: sf3b4Stats, points: sf3b4Pts, left: 530, top: 740, w: 175, h: 240, ml: 30, mr: 14.3, mt: 16.7, mb: 28.3, domain: [-1.12, 2.9], ticks: [-1, -0.5, 0, 0.5, 1, 1.5, 2, 2.5], fmt: f1});
  txt("NPX", 537, 611, {size: 8.5, rotate: -90});
  txt("NPX", 18, 854, {size: 8.5, rotate: -90});
})();
</script>
</body>
</html>
